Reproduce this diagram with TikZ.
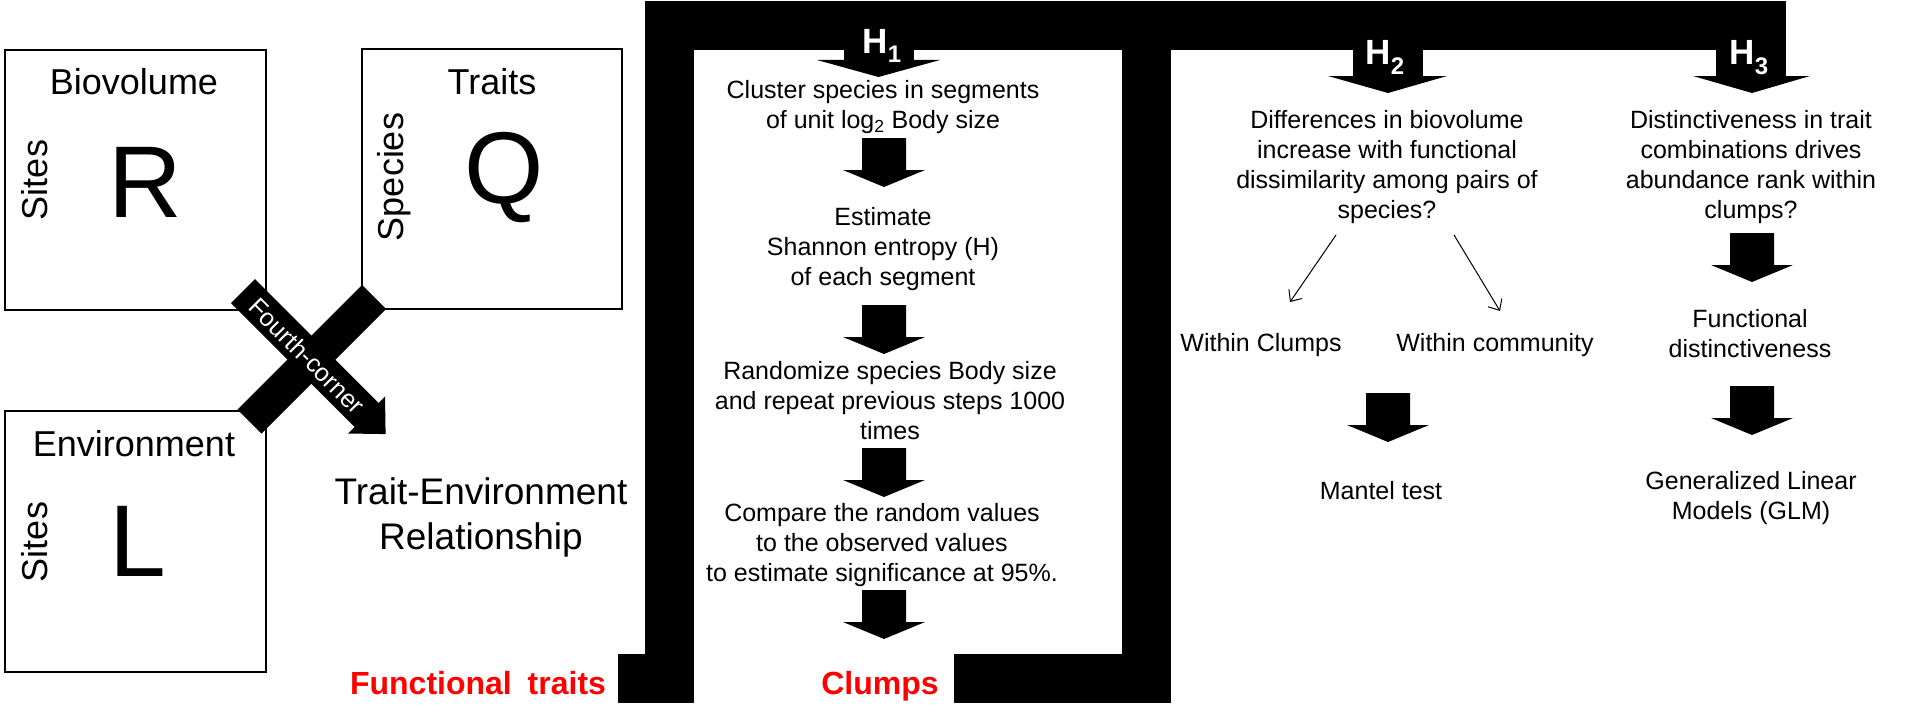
\documentclass[tikz,border=0pt]{standalone}
\usepackage{fontspec}
\setmainfont{Liberation Sans}
\usetikzlibrary{arrows.meta}
\tikzset{
  txt/.style={font=\fontsize{25}{30}\selectfont, align=center, inner sep=0pt},
  bigtxt/.style={font=\fontsize{36}{45}\selectfont, align=center, inner sep=0pt},
  letter/.style={font=\fontsize{102}{102}\selectfont, inner sep=0pt, anchor=base},
  matbox/.style={draw, line width=1.7pt, inner sep=0pt},
  redlab/.style={font=\bfseries\fontsize{32}{36}\selectfont, text=red, inner sep=0pt},
  hlab/.style={font=\bfseries\fontsize{35}{35}\selectfont, text=white, inner sep=0pt, anchor=base},
  cornerlab/.style={font=\fontsize{25}{25}\selectfont, text=white, inner sep=0pt, rotate=-45},
  fatdown/.pic={\fill[black] (-22,0) -- (22,0) -- (22,32) -- (41,32) -- (0,49) -- (-41,32) -- (-22,32) -- cycle;},
  thinarrow/.style={line width=1pt, -{Straight Barb[length=9pt,width=16pt]}},
}
\newcommand{\hsub}[1]{\raisebox{-9.5pt}{\fontsize{24}{24}\selectfont #1}}
\begin{document}
\begin{tikzpicture}[x=1pt,y=-1pt]
\useasboundingbox (0,0) rectangle (1924,725);
\fill[white] (0,0) rectangle (1924,725);

% ---------- left panel: matrices ----------
\node[matbox, minimum width=261pt, minimum height=260pt] (boxR) at (135.5,180) {};
\node[matbox, minimum width=260pt, minimum height=260pt] (boxQ) at (492,179) {};
\node[matbox, minimum width=261pt, minimum height=261pt] (boxL) at (135.5,541.5) {};

\node[bigtxt] (bio) at (134,82) {Biovolume};
\node[bigtxt, rotate=90] (sites1) at (35,180) {Sites};
\node[letter] (R) at (145,217) {R};

\node[bigtxt] (traits) at (492,82) {Traits};
\node[bigtxt, rotate=90] (species) at (394,177) {Species};
\node[letter] (Q) at (504,203) {Q};

\node[bigtxt] (env) at (134,444) {Environment};
\node[bigtxt, rotate=90] (sites2) at (35,542) {Sites};
\node[letter] (L) at (138,576) {L};

% fourth-corner cross
\fill[black] (362,285) -- (386,309) -- (261.5,433.5) -- (237.5,409.5) -- cycle;
\fill[black] (255,279) -- (378.5,403) -- (385,396.5) -- (385.6,434.1) -- (348,433.5) -- (354.5,427) -- (231,303) -- cycle;
\node[cornerlab] (fc) at (307,356) {Fourth-corner};

\node[bigtxt, font=\fontsize{37}{45}\selectfont] (ter) at (481,517) {Trait-Environment\\Relationship};

\node[redlab] (ft) at (478,683) {Functional\hspace{7pt} traits};
\node[redlab] (clumps) at (880,686) {Clumps};

% ---------- black frame ----------
\fill[black] (645,1) rectangle (1786,50);
\fill[black] (645,1) rectangle (694,703);
\fill[black] (618,654) rectangle (694,703);
\fill[black] (1122,1) rectangle (1171,703);
\fill[black] (954,654) rectangle (1171,703);
% hypothesis arrows
\fill[black] (844,49) rectangle (914,60);
\fill[black] (817,60) -- (940,60) -- (878.5,77) -- cycle;
\fill[black] (1353,49) rectangle (1423,76);
\fill[black] (1328,76) -- (1447,76) -- (1388,93) -- cycle;
\fill[black] (1716,49) rectangle (1786,76);
\fill[black] (1693,76) -- (1810,76) -- (1752,93) -- cycle;

\node[hlab] (h1) at (882,53) {H\hsub{1}};
\node[hlab] (h2) at (1385,65) {H\hsub{2}};
\node[hlab] (h3) at (1749,65) {H\hsub{3}};

% ---------- H1 column ----------
\node[txt] (c1) at (883,107) {Cluster species in segments\\of unit log\textsubscript{2} Body size};
\node[txt] (c2) at (883,249) {Estimate\\Shannon entropy (H)\\of each segment};
\node[txt] (c3) at (890,401) {Randomize species Body size\\and repeat previous steps 1000\\times};
\node[txt] (c4) at (882,545) {Compare the random values\\to the observed values\\to estimate significance at 95\%.};
\pic at (884,138) {fatdown};
\pic at (884,305) {fatdown};
\pic at (884,448) {fatdown};
\pic at (884,590) {fatdown};

% ---------- H2 column ----------
\node[txt] (q2) at (1387,167) {Differences in biovolume\\increase with functional\\dissimilarity among pairs of\\species?};
\node[txt] (wc) at (1261,345) {Within Clumps};
\node[txt] (wcom) at (1495,345) {Within community};
\node[txt] (mantel) at (1381,491) {Mantel test};
\coordinate (a1s) at (1336,235);
\coordinate (a1e) at (1290,302);
\coordinate (a2s) at (1454,235);
\coordinate (a2e) at (1500,311);
\draw[thinarrow] (a1s) -- (a1e);
\draw[thinarrow] (a2s) -- (a2e);
\pic at (1388,393) {fatdown};

% ---------- H3 column ----------
\node[txt] (q3) at (1751,167) {Distinctiveness in trait\\combinations drives\\abundance rank within\\clumps?};
\node[txt] (fd) at (1750,334) {Functional\\distinctiveness};
\node[txt] (glm) at (1751,498) {Generalized Linear\\Models (GLM)};
\pic at (1752,233) {fatdown};
\pic at (1752,386) {fatdown};
\end{tikzpicture}
\end{document}
